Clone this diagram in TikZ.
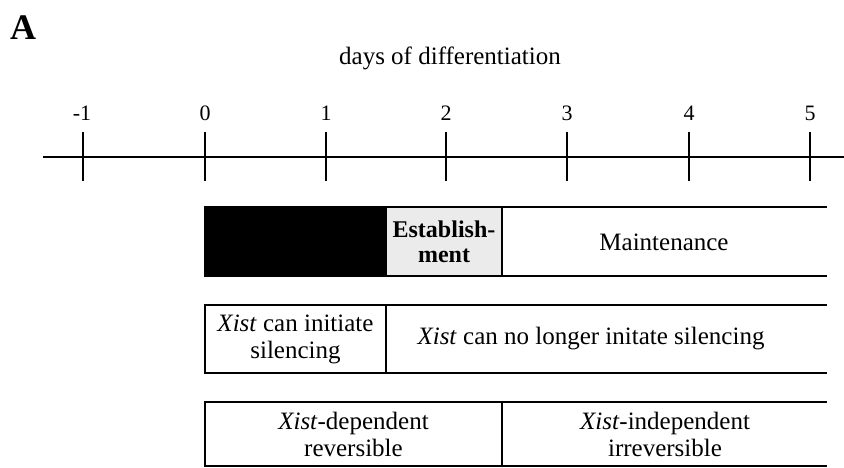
\documentclass[tikz,border=0pt]{standalone}
\usepackage{fontspec}
\setmainfont{Liberation Serif}
\begin{document}
\begin{tikzpicture}[x=1pt,y=-1pt,line width=2.6pt,
  txt/.style={font=\fontsize{25}{27}\selectfont,align=center,inner sep=0pt},
  numtxt/.style={font=\fontsize{22}{22}\selectfont,inner sep=0pt},
  cell/.style={draw,line width=2.6pt,anchor=north west,inner sep=0pt,outer sep=0pt,
    font=\fontsize{25}{27}\selectfont,align=center}]
\useasboundingbox (0,0) rectangle (844,467);
% label A
\node[font=\fontsize{36}{36}\selectfont\bfseries,inner sep=0pt] (lblA) at (23,28) {A};
\node[txt] (title) at (450,58) {days of differentiation};
% axis
\coordinate (axL) at (43,157);
\coordinate (axR) at (844,157);
\draw (axL) -- (axR);
\foreach \d/\x in {m1/83,0/205,1/326,2/446,3/567,4/689,5/810}{
  \coordinate (tt\d) at (\x,132);
  \coordinate (tb\d) at (\x,181);
  \draw (tt\d) -- (tb\d);
}
\foreach \d/\x/\t in {m1/82/-1,0/205/0,1/326/1,2/446/2,3/567/3,4/689/4,5/810/5}{
  \node[numtxt] (num\d) at (\x,113) {\t};
}
% bar 1
\node[cell,fill=black,minimum width=181pt,minimum height=69pt] (init) at (205,207) {};
\node[cell,fill=gray!16,minimum width=116pt,minimum height=69pt,font=\fontsize{24}{25}\selectfont\bfseries] (estab) at (386,207) {Establish-\\ment};
\coordinate (r1n) at (827,207);
\coordinate (r1s) at (827,276);
\draw (estab.north east) -- (r1n);
\draw (estab.south east) -- (r1s);
\node[txt] (maint) at (664,242) {Maintenance};
% bar 2
\node[cell,minimum width=181pt,minimum height=68pt] (can) at (205,305) {\textit{Xist} can initiate\\silencing};
\coordinate (r2n) at (827,305);
\coordinate (r2s) at (827,373);
\draw (can.north east) -- (r2n);
\draw (can.south east) -- (r2s);
\node[txt] (cannot) at (591,339) {\textit{Xist} can no longer initate silencing};
% bar 3
\node[cell,minimum width=297pt,minimum height=64pt] (dep) at (205,402) {\textit{Xist}-dependent\\reversible};
\coordinate (r3n) at (827,402);
\coordinate (r3s) at (827,466);
\draw (dep.north east) -- (r3n);
\draw (dep.south east) -- (r3s);
\node[txt] (indep) at (665,434) {\textit{Xist}-independent\\irreversible};
\end{tikzpicture}
\end{document}
